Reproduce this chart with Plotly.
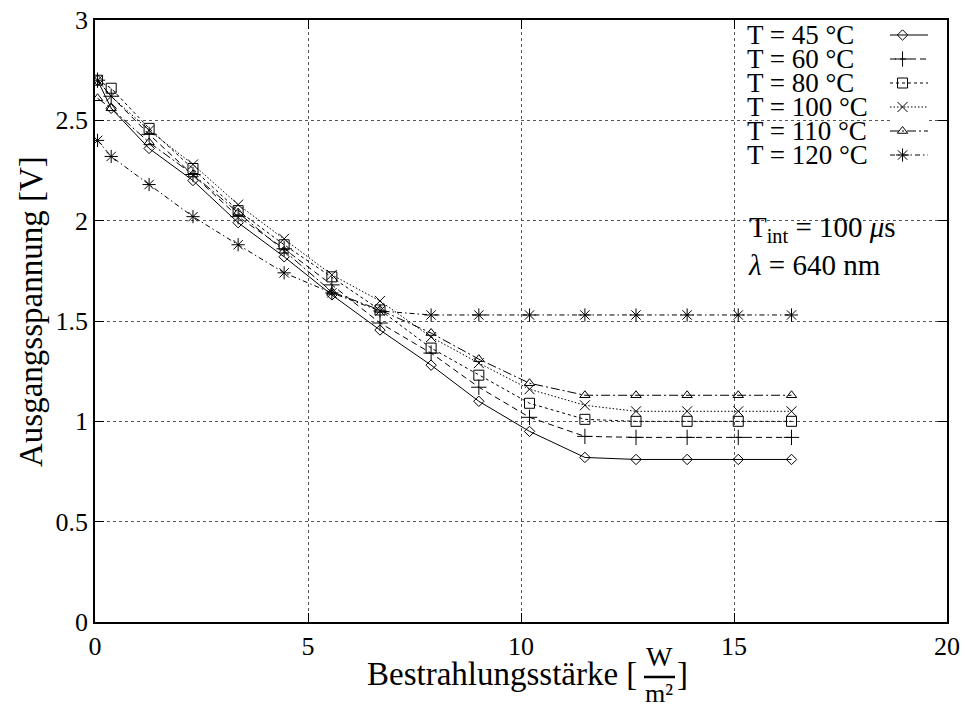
import plotly.graph_objects as go

# ---------------- data ----------------
irradiance = [0.06, 0.38, 1.27, 2.30, 3.36, 4.44, 5.56, 6.69, 7.89, 9.01, 10.2, 11.5, 12.7, 13.9, 15.1, 16.35]

t45 = [2.70, 2.56, 2.36, 2.20, 1.99, 1.82, 1.63, 1.455, 1.28, 1.10, 0.95, 0.82, 0.81, 0.81, 0.81, 0.81]
t60 = [2.70, 2.62, 2.43, 2.23, 2.02, 1.86, 1.68, 1.49, 1.34, 1.17, 1.02, 0.925, 0.92, 0.92, 0.92, 0.92]
t80 = [2.70, 2.66, 2.46, 2.26, 2.05, 1.88, 1.72, 1.555, 1.365, 1.23, 1.09, 1.01, 1.00, 1.00, 1.00, 1.00]
t100 = [2.70, 2.62, 2.45, 2.28, 2.08, 1.91, 1.73, 1.60, 1.42, 1.29, 1.16, 1.08, 1.05, 1.05, 1.05, 1.05]
t110 = [2.61, 2.56, 2.39, 2.23, 2.04, 1.85, 1.645, 1.555, 1.44, 1.31, 1.19, 1.13, 1.13, 1.13, 1.13, 1.13]
t120 = [2.40, 2.32, 2.18, 2.02, 1.88, 1.74, 1.64, 1.55, 1.53, 1.53, 1.53, 1.53, 1.53, 1.53, 1.53, 1.53]

series_names = ["T = 45 °C", "T = 60 °C", "T = 80 °C", "T = 100 °C", "T = 110 °C", "T = 120 °C"]
series_values = [t45, t60, t80, t100, t110, t120]

x_ticks = [0, 5, 10, 15, 20]
y_ticks = [0, 0.5, 1, 1.5, 2, 2.5, 3]

# ---------------- styles ----------------
symbols = ["diamond-open", "cross-thin-open", "square-open", "x-thin-open",
           "triangle-up-open", "asterisk-open"]
dashes = ["solid", "6px,4px", "3px,3px", "1.5px,2px", "9px,3px,2px,3px", "5px,3px,1.5px,3px"]
marker_sizes = [8, 11, 10, 10, 9, 11]

FONT = "Liberation Serif, DejaVu Serif, serif"

FIG_W, FIG_H = 965, 711
# plot area in window pixels
L, R, T, B = 95, 947, 20, 622


def px(xp):
    return (xp - L) / float(R - L)


def py(yp):
    return (B - yp) / float(B - T)


fig = go.Figure()

for name, vals, sym, dash, ms in zip(series_names, series_values, symbols, dashes, marker_sizes):
    fig.add_trace(go.Scatter(
        x=irradiance, y=vals, mode="lines+markers", name=name,
        line=dict(color="black", width=1, dash=dash),
        marker=dict(symbol=sym, size=ms, color="black", line=dict(color="black", width=1)),
        showlegend=False,
    ))

# ---------------- legend (text left, key right, as in gnuplot) ----------------
key_rows = [5.5 - i for i in range(len(series_names))]
for name, row, sym, dash, ms in zip(series_names, key_rows, symbols, dashes, marker_sizes):
    fig.add_trace(go.Scatter(
        x=[0, 1], y=[row, row], mode="lines", xaxis="x2", yaxis="y2",
        line=dict(color="black", width=1, dash=dash), showlegend=False, hoverinfo="skip",
    ))
    fig.add_trace(go.Scatter(
        x=[0.33], y=[row], mode="markers", xaxis="x2", yaxis="y2",
        marker=dict(symbol=sym, size=ms, color="black", line=dict(color="black", width=1)),
        showlegend=False, hoverinfo="skip",
    ))
    fig.add_annotation(
        xref="paper", yref="y2", x=px(745), y=row, text=name, showarrow=False,
        xanchor="left", yanchor="middle", font=dict(family=FONT, size=27, color="black"),
    )

axis_common = dict(
    showline=True, linecolor="black", linewidth=1.5, mirror="ticks",
    ticks="inside", ticklen=9, tickwidth=1, tickcolor="black",
    showgrid=True, gridcolor="#555555", griddash="dot", gridwidth=1,
    zeroline=False, automargin=False, ticklabeloverflow="allow",
    tickfont=dict(family=FONT, size=26, color="black"),
)

fig.update_layout(
    width=FIG_W, height=FIG_H,
    margin=dict(l=L, r=FIG_W - R, t=T, b=FIG_H - B, autoexpand=False),
    paper_bgcolor="white", plot_bgcolor="white",
    font=dict(family=FONT, color="black"),
    xaxis=dict(range=[0, 20], tickvals=x_ticks, ticktext=[str(v) for v in x_ticks], **axis_common),
    yaxis=dict(range=[0, 3], tickvals=y_ticks, ticktext=[("%g" % v) for v in y_ticks], **axis_common),
    xaxis2=dict(domain=[px(890), px(928)], range=[0, 1], visible=False, anchor="y2", fixedrange=True),
    yaxis2=dict(domain=[py(167), py(23)], range=[0, 6], visible=False, anchor="x2", fixedrange=True),
)

# y axis title
fig.add_annotation(xref="paper", yref="paper", x=px(31), y=py(312),
                   text="Ausgangsspannung [V]", textangle=-90, showarrow=False,
                   xanchor="center", yanchor="middle",
                   font=dict(family=FONT, size=33, color="black"))

# second text block
fig.add_annotation(
    xref="paper", yref="paper", x=px(746), y=py(246),
    text="T<sub>int</sub> = 100 <i>μ</i>s<br><i>λ</i> = 640 nm",
    showarrow=False, xanchor="left", yanchor="middle", align="left",
    font=dict(family=FONT, size=29, color="black"),
)

# x axis title with a fraction  [W / m²]
fig.add_annotation(xref="paper", yref="paper", x=px(639), y=py(674),
                   text="Bestrahlungsstärke [", showarrow=False, xanchor="right", yanchor="middle",
                   font=dict(family=FONT, size=33, color="black"))
fig.add_annotation(xref="paper", yref="paper", x=px(659), y=py(656),
                   text="W", showarrow=False, xanchor="center", yanchor="middle",
                   font=dict(family=FONT, size=28, color="black"))
fig.add_annotation(xref="paper", yref="paper", x=px(659), y=py(693),
                   text="m²", showarrow=False, xanchor="center", yanchor="middle",
                   font=dict(family=FONT, size=26, color="black"))
fig.add_annotation(xref="paper", yref="paper", x=px(675), y=py(674),
                   text="]", showarrow=False, xanchor="left", yanchor="middle",
                   font=dict(family=FONT, size=33, color="black"))
fig.add_shape(type="line", xref="paper", yref="paper",
              x0=px(644), x1=px(675), y0=py(677), y1=py(677),
              line=dict(color="black", width=2.5))

# remove the default 8px page margin so the figure sits at the window's corner
fig.write_html(
    "out.html",
    config={"displayModeBar": False},
    post_script="document.body.style.margin='0';document.body.style.padding='0';"
                "document.body.style.overflow='hidden';",
)
